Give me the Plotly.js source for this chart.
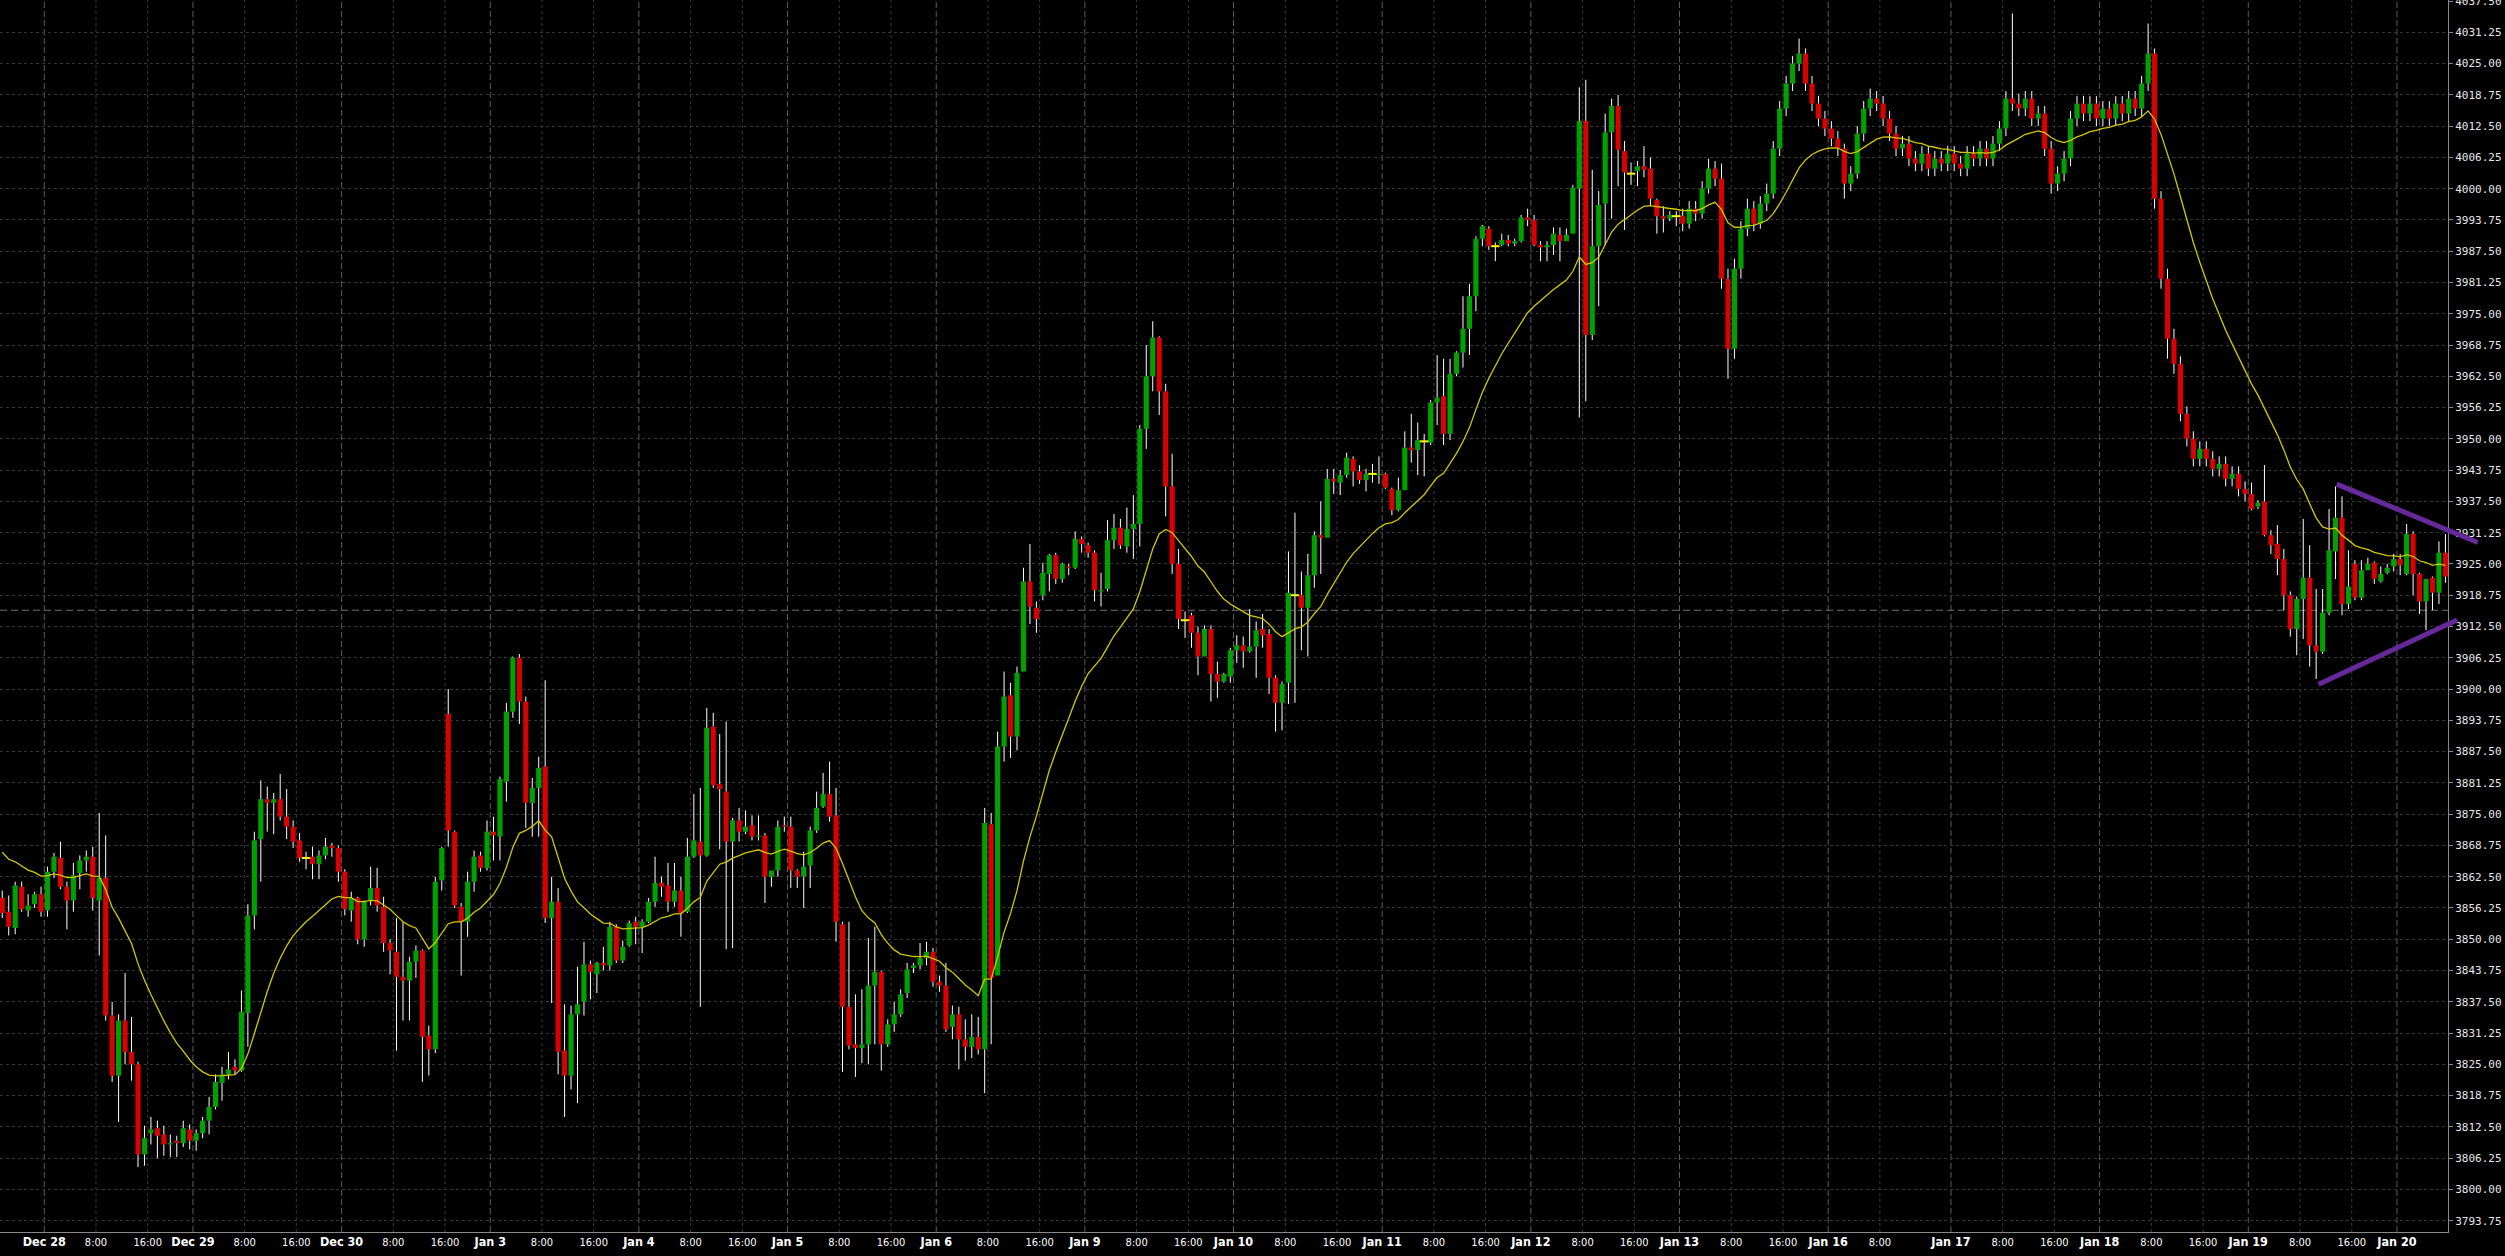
<!DOCTYPE html>
<html>
<head>
<meta charset="utf-8">
<script src="https://cdn.plot.ly/plotly-3.0.1.min.js"></script>
<style>
html,body{margin:0;padding:0;background:#000;}
#chart{width:2505px;height:1256px;}
</style>
</head>
<body>
<div id="chart"></div>
<script>
// hourly bar index of the first candle (Dec 27 16:00); index 0 = Dec 28 0:00
const firstBar = -7;

const open = [
3858.25,3855.5,3852.25,3860.5,3855.75,3857,3859,
3855.75,3863.5,3866.25,3860.5,3857.75,3863.25,3865.75,3866.5,3857.75,3862.25,3834.75,3822.75,3833.75,3827.5,3825,3807,3811.25,3812.25,3811,3809,3809.75,3809.25,3812,
3809.75,3811.25,3813.75,3816.5,3821.25,3823,3824.5,3823.75,3835.25,3854.75,3870,3878,3877.25,3878,3874.5,3872.5,3869.75,3866.25,3866.5,3865,3866.75,3868.75,3868.25,
3863.5,3855.75,3858.25,3850,3857.75,3860.25,3856.5,3849.25,3847.5,3842.5,3841.75,3845.5,3847.75,3830.75,3828,3861.75,3895,3871.5,3856.5,3853.5,3861.5,3866.75,3864.25,
3871.5,3870.5,3881.5,3895.5,3906.25,3897.5,3877.25,3880.25,3884.5,3854.25,3857.5,3827.75,3822.75,3835,3837.5,3845,3843,3845.25,3844.75,3852.5,3845.75,3848.75,3853.5,
3852.5,3853.5,3857.5,3861.25,3860.75,3857.5,3859.75,3855.5,3866.5,3869.5,3866.75,3892.5,3881,3879.5,3869.5,3873.75,3871.5,3872.75,3870.5,3870.75,3862.5,3863.75,3872.75,
3872.5,3863.75,3862.5,3864.75,3871.75,3876.5,3879,3874.75,3853,3836.5,3829,3828.25,3829,3840.75,3843.5,3829,3833,3835,3839.25,3844.25,3844.75,3846.25,3847.5,
3841.5,3840.75,3832.5,3835,3830,3828.5,3830.5,3828,3873,3842.75,3888.5,3898.75,3890.5,3903.5,3921.5,3916.25,3918.75,3923,3926.75,3922,3924.5,3924.25,3930,
3928.75,3927.25,3919.5,3920,3929.75,3932.25,3928.5,3932,3933,3952,3962.5,3970.25,3959.5,3940.5,3925,3913.75,3914.75,3911.25,3906.5,3912,3903,3901.5,3902.5,
3907.75,3908.75,3907.5,3908.5,3912,3911,3902.25,3897.25,3901.25,3918.75,3918.75,3916.25,3922.75,3930.75,3930.25,3942,3941.25,3942.75,3946,3943.5,3941.75,3943,3942.75,
3943,3940,3935.75,3939.75,3948.25,3947.75,3949.5,3949.25,3957.25,3958.5,3951,3963,3967.25,3972,3978.5,3990,3992,3988.5,3988.75,3989.75,3989,3989.5,3994.25,
3993.75,3988.75,3988.25,3988.75,3990.75,3989.5,3991,4000,4013.5,3970.75,3988.5,3997,4011.25,4016.5,4007.5,4003,4003.5,4004.5,4004,3997.75,3994.5,3994,3994.5,
3994.5,3993,3996,3995,4000,4004,4002,3982,3968,3984,3992,3996,3993,3997,3999,4008,4016,4021,4025,4027,4021,4017,4014,
4012,4010,4008,4001,4003,4011,4016,4018,4017,4014,4011,4008,4009,4006,4005,4007,4004,4006,4005,
4007,4005,4004,4007,4006,4008,4006,4009,4012,4018,4017,4016,4018,4014,4015,4008,4001,4003,4006,4014,4017,4015,4017,
4014,4016,4014,4017,4015,4018,4016,4021,4027,3998,3982,3970,3965,3955,3950,3946,3948,3946,3944,3945,3942,3943,3940,
3939,3936.5,3937.5,3930.75,3929,3926,3918.75,3912,3918,3922.25,3908.75,3907.5,3915.25,3927.5,3934.25,3917,3925,3918.25,3923.75,3925.25,3921.5,3923.25,3924.5,
3926,3923,3931,3923,3917.5,3922.25,3919.25,3927.25
];

const high = [
3859.75,3858.75,3861.5,3861.5,3859,3859.5,3860.5,
3864.5,3867.25,3869.5,3861.5,3865.25,3866.75,3867.75,3868.5,3875.25,3870.75,3837.5,3835,3843.25,3834.5,3825.5,3812.75,3814.5,3813.75,3812.75,3811,3810.75,3813.75,3813,
3812,3814.5,3818.5,3823,3824.5,3827.5,3826,3839.75,3857,3871.5,3881.75,3880.5,3879.25,3883,3880,3873.75,3871.25,3867.5,3868.5,3867.75,3870.25,3869.25,3868.75,
3864,3859.5,3858.5,3857.75,3864.5,3864.25,3858.5,3850,3854.25,3853.5,3846.5,3848.75,3848,3832.75,3862.5,3868.5,3900,3871.75,3857.25,3863.5,3867.75,3867.5,3873.75,
3874.5,3882.5,3897.25,3906.5,3907,3898.5,3882.25,3886.5,3901.75,3862.5,3860.25,3837,3836.75,3844.5,3849.5,3845.75,3845.5,3848.5,3853.5,3853,3849.75,3853.75,3854.5,
3854,3858.25,3866.5,3862.5,3865.25,3865.25,3862.5,3870.25,3879,3880.25,3896.25,3895.25,3891,3893.5,3874.25,3876.25,3875.75,3874.75,3874.75,3871.25,3863.75,3873.75,3874.5,
3874.5,3864,3867.5,3872.5,3879.5,3883.25,3885.5,3880.25,3853.5,3853.5,3839,3840,3850.25,3852.5,3843.75,3834,3837.5,3840,3845.25,3845.25,3849.25,3849.5,3848.25,
3842.75,3845.25,3836.75,3836.5,3834,3835,3834.5,3876.25,3875.25,3891.5,3903.5,3901.25,3904.5,3924.25,3929,3917.5,3925.25,3927,3927.25,3925.25,3925,3931.5,3930.5,
3929.25,3927.75,3923.25,3933.75,3935,3934,3936.25,3938.75,3952.75,3968.75,3973.5,3970.5,3961,3947,3928,3915.5,3915.25,3912.5,3912.75,3912.75,3905.5,3903.25,3908.25,
3910.75,3910.5,3916,3913.5,3915,3912,3902.75,3901.5,3927.5,3935.25,3923.5,3927,3931.5,3937.5,3944,3944,3943.75,3947.25,3946.5,3944.75,3944,3945,3946.5,
3943.25,3940.25,3942.25,3951.5,3955,3953.25,3951,3957.75,3966.75,3966,3966,3967.5,3978.5,3981,3990.5,3992.75,3992.5,3989.25,3991,3990.75,3990,3994.75,3996,
3994.75,3989.5,3989.5,3992.25,3992.25,3992,4000.75,4020.25,4021.75,4003.75,3999.5,4015,4018,4018.75,4009.5,4005.25,4005.5,4008.5,4006.25,3998,3996.5,3995.5,3995.5,
3996,3997.5,3997.5,4001.5,4006,4005.5,4005,3984,3986,3993.5,3998,3997.5,3998.5,4001,4009.5,4017.5,4022.5,4026.5,4030,4028,4022.5,4018.5,4015.5,
4013.5,4011.5,4009,4004.5,4012.5,4017.5,4020,4019.5,4018.5,4015.5,4012.5,4010.5,4010.5,4007.5,4008.5,4008.5,4007.5,4007.5,4008.5,
4008.5,4006.5,4008.5,4008.5,4009.5,4009.5,4010.5,4013.5,4019.5,4035,4019,4019.5,4019.5,4016.5,4016.5,4009.5,4004.5,4007.5,4015.5,4018.5,4018.5,4018.5,4018.5,
4017.5,4017.5,4018.5,4018.5,4019.5,4019.5,4022.5,4033,4028,3999.5,3984,3972,3966.5,3956.5,3951.5,3949.5,3949.5,3947.5,3946.5,3946.5,3944.5,3944.5,3941.5,
3941.25,3937.75,3944.75,3931.75,3932.75,3928,3919.5,3918.5,3934,3928.75,3920,3920,3936,3940.5,3938.5,3927.75,3925.75,3925.75,3926.25,3925.5,3924.5,3925,3927,
3927,3933,3931.5,3923.25,3922,3922.5,3929.5,3931
];

const low = [
3854.25,3850.75,3851,3855.5,3854.5,3856.25,3854.5,
3854.5,3862.25,3860,3852,3855.5,3860,3863.5,3855.75,3846.75,3833.75,3821.5,3813.5,3825,3821.75,3804.5,3804.75,3809,3806.25,3806.75,3806.5,3806.5,3808.5,3808,
3807.75,3810.25,3811,3816,3817.75,3822,3823,3823.5,3828.5,3852,3861.5,3871.5,3871,3873.75,3870,3868.25,3865.5,3864,3862,3862,3866,3866.5,3861.5,
3854.75,3853.5,3849,3848.5,3856.75,3855.5,3847.5,3843,3827.75,3833.75,3833.75,3842.25,3821.5,3822.75,3827.25,3859.75,3868.5,3856.25,3842.75,3850.5,3859.5,3863.5,3863.75,
3865.75,3865.75,3877.5,3894.25,3893,3872.25,3870.5,3870.5,3853.25,3837.25,3823,3814.5,3820,3817.25,3834.75,3838,3839.25,3843.75,3843.75,3845.25,3845.25,3848.5,3849,
3847.25,3853.25,3856.5,3858.5,3855.5,3856.5,3850.5,3855.25,3866.25,3836.5,3866.5,3880.25,3868,3848,3848.25,3869.5,3871,3869.75,3869.75,3857.25,3860.5,3862.5,3871.5,
3860.25,3860.25,3856.25,3860.25,3871.25,3876.25,3873.5,3849.5,3823.5,3828,3822.5,3825.25,3825,3829,3823.75,3828.5,3831.5,3834.5,3838.25,3843.25,3844,3844.75,3840.5,
3839.5,3831.5,3830,3824,3825.75,3826.25,3827,3819.25,3829,3842.75,3885.5,3886.25,3887.75,3903.5,3913,3911.25,3917.75,3919.5,3921,3921.25,3922.75,3924,3927.25,
3926.25,3917.5,3916.5,3919.5,3928,3928,3927.25,3926,3928.5,3948,3959.5,3954.75,3934.5,3923,3912,3910.25,3908.25,3902.75,3906.5,3897.5,3898.25,3901.25,3901.25,
3905.25,3904.25,3907.25,3902.25,3908.25,3899,3891.5,3891.75,3897,3897.25,3907.75,3906.5,3920.25,3923,3930.25,3939,3938.75,3942.25,3940.5,3941,3939.5,3941.25,3941,
3940,3934.75,3935.5,3939.75,3945.25,3942.75,3942.5,3948.75,3952.75,3948.75,3949.75,3962.5,3964.25,3966.75,3975.5,3988.5,3987.75,3985.5,3988.5,3988.5,3988.5,3989.25,3992.5,
3988.5,3985.5,3985.5,3986.75,3985.5,3989.5,3991,3954.25,3957.5,3969.75,3976.5,3988.75,3994,4000.5,3991.75,4000.75,4000.5,4002.25,3996.75,3991,3991.25,3993.5,3992.5,
3991.5,3992,3993.5,3994,3999,4000.5,3980,3962,3966,3982,3990.5,3991.5,3992,3995.5,3998,4006.5,4014.5,4019.5,4023.5,4019.5,4015.5,4012.5,4010.5,
4008.5,4006.5,3998,3999.5,4002,4009.5,4014.5,4015.5,4012.5,4009.5,4006.5,4006.5,4004.5,4003.5,4003.5,4002.5,4002.5,4003.5,4003.5,
4003.5,4002.5,4002.5,4004.5,4004.5,4004.5,4004.5,4007.5,4010.5,4015.5,4014.5,4014.5,4012.5,4012.5,4006.5,3999,3999.5,4001.5,4004.5,4012.5,4013.5,4013.5,4012.5,
4012.5,4012.5,4012.5,4013.5,4013.5,4014.5,4014.5,4019.5,3996,3980,3966,3963,3953.5,3948.5,3944.5,3944.5,3944.5,3942.5,3942.5,3940.5,3940.5,3938.5,3937.5,
3935.75,3936,3930.5,3927,3922.75,3915.75,3910.5,3906.75,3910,3904.5,3902,3907,3914.75,3922,3914.75,3916,3917.75,3917.75,3923.75,3921,3921.25,3923,3923.5,
3922.75,3922.75,3918.75,3915,3911.75,3915.75,3917,3921.25
];

const close = [
3855.25,3852.5,3860.75,3856,3856.75,3859,3855.5,
3863.5,3866.5,3860.5,3857.75,3862.75,3865.75,3866.5,3858.25,3862.25,3834.75,3822.75,3833.75,3827.5,3825,3807,3810.25,3812,3810.75,3809,3809.25,3809.25,3812.25,3809.75,
3811.25,3813.75,3816.5,3821.5,3823,3824,3823.75,3835.5,3854.75,3869.75,3878,3877.25,3878,3874.5,3872.5,3869.5,3866.25,3866.25,3865,3866.75,3868.5,3868.25,3863.5,
3856,3858.25,3850,3857.5,3860.25,3856.75,3849.25,3847.75,3842.5,3841.75,3845.5,3847.75,3830.5,3828,3861.5,3868.25,3871.75,3856.75,3853.5,3861.5,3866.5,3864.25,3871.5,
3870.75,3882,3895.5,3906.25,3897.5,3877.25,3880.25,3884.25,3854.25,3857.5,3827.5,3822.75,3835,3837,3845,3843.5,3845.25,3844.75,3852.5,3845.75,3848.5,3853.25,3852.5,
3853.5,3857.5,3861.25,3860.5,3857.5,3859.75,3855.25,3866.5,3869.75,3866.75,3892.25,3880.75,3880,3869.5,3873.75,3871.5,3872.5,3870.5,3870.75,3862.5,3863.75,3872.5,3872.5,
3863.75,3862.5,3864.5,3871.75,3876.25,3879,3874.5,3853.5,3836.5,3828.75,3828.25,3829,3840.75,3843.5,3829,3833,3835,3839,3844,3844.75,3846.25,3847.5,3841.5,
3840.75,3832,3835,3830,3828.5,3830.5,3828,3873.25,3842.25,3888.5,3898.5,3890.5,3903.25,3921.5,3916.5,3914,3923.25,3926.75,3922,3925,3924.25,3930,3929,
3927.25,3919.75,3919.75,3929.75,3932.25,3928.75,3932,3933,3952,3962.5,3970.25,3959.5,3940.5,3925,3914,3913.75,3911.25,3906.5,3912,3903,3901.5,3903,3907.75,
3908.75,3907.5,3908.5,3911.75,3910.75,3902.25,3897.25,3901,3919.25,3918.75,3916.25,3922.75,3930.75,3930.25,3942,3941.5,3942.75,3946.25,3943.5,3941.75,3943,3943,3943,
3940.25,3935.75,3939.75,3948.25,3947.75,3949.75,3949.5,3957.25,3958.25,3951,3963,3967.25,3972,3978.5,3990,3992.5,3988.5,3988.5,3989.75,3989,3989.5,3994.25,3993.75,
3988.75,3988.25,3988.75,3991,3989.5,3990.75,4000.25,4013.5,3970.75,3988.5,3996.75,4011.25,4016.5,4007.75,4003.25,4003,4004.5,4003.75,3998,3994.5,3994,3994.75,3994.5,
3993,3996,3995,4000,4004,4002,3982,3968,3984,3992,3996,3993,3997,3999,4008,4016,4021,4025,4027,4021,4017,4014,4012,
4010,4008,4001,4003,4011,4016,4018,4017,4014,4011,4008,4009,4006,4005,4007,4004,4006,4005,4007,
4005,4004,4007,4006,4008,4006,4009,4012,4018,4017,4016,4018,4014,4015,4008,4001,4003,4006,4014,4017,4015,4017,4014,
4016,4014,4017,4015,4018,4016,4021,4027,3998,3982,3970,3965,3955,3950,3946,3948,3946,3944,3945,3942,3943,3940,3939,
3936,3937.25,3930.75,3928.75,3926,3918.75,3912,3918,3922.25,3908.75,3907.5,3915.25,3927.75,3934.25,3917,3920.5,3918.25,3923.75,3925,3922,3923,3924.25,3926,
3924.75,3931,3923,3917.5,3922,3919.25,3927.25,3922.5
];

// x-axis labels and the bar index at which each one starts
const tickIdx = [0,8,16,23,31,39,46,54,62,69,77,85,92,100,108,115,123,131,138,146,154,161,169,177,184,192,200,207,215,223,230,238,246,253,261,269,276,284,295,303,311,318,326,334,341,349,357,364];
const tickText = ['Dec 28','8:00','16:00','Dec 29','8:00','16:00','Dec 30','8:00','16:00','Jan 3','8:00','16:00','Jan 4','8:00','16:00','Jan 5','8:00','16:00','Jan 6','8:00','16:00','Jan 9','8:00','16:00','Jan 10','8:00','16:00','Jan 11','8:00','16:00','Jan 12','8:00','16:00','Jan 13','8:00','16:00','Jan 16','8:00','Jan 17','8:00','16:00','Jan 18','8:00','16:00','Jan 19','8:00','16:00','Jan 20'];

// moving average (EMA of close), value at the first visible bar
const maPeriod = 20;
const maFirst = 3867.4;

// dashed horizontal price line
const refLevel = 3915.75;

// drawn trendlines (bar index, price)
const trendUpperX = [354.1, 376.0];
const trendUpperY = [3941.0, 3929.3];
const trendLowerX = [351.3, 372.8];
const trendLowerY = [3900.9, 3913.8];

// ---------------------------------------------------------------
const n = close.length;
if (open.length !== n || high.length !== n || low.length !== n) {
  throw new Error('length mismatch ' + [open.length, high.length, low.length, n].join(','));
}
const xs = close.map((_, k) => firstBar + k);

const GREEN = '#00a000', RED = '#d80000';
const bodyBase = [], bodyLen = [], bodyColor = [];
const wx = [], wy = [];
const dojiX = [], dojiY = [];
for (let k = 0; k < n; k++) {
  const o = open[k], c = close[k];
  const top = Math.max(o, c), bot = Math.min(o, c);
  bodyBase.push(bot);
  bodyLen.push(top - bot);
  bodyColor.push(c > o ? GREEN : (c < o ? RED : 'rgba(0,0,0,0)'));
  if (o === c) { dojiX.push(xs[k]); dojiY.push(c); }
  wx.push(xs[k], xs[k], null, xs[k], xs[k], null);
  wy.push(high[k], top, null, bot, low[k], null);
}
const alpha = 2 / (maPeriod + 1);
const ma = [maFirst];
for (let k = 1; k < n; k++) ma.push(ma[k - 1] + alpha * (close[k] - ma[k - 1]));

const traces = [
  {type:'bar', x:xs, y:bodyLen, base:bodyBase, width:0.8,
   marker:{color:bodyColor, line:{width:0}}, hoverinfo:'skip'},
  {type:'scatter', mode:'lines', x:wx, y:wy, line:{color:'#ffffff', width:1},
   hoverinfo:'skip', connectgaps:false},
  {type:'scatter', mode:'lines', x:xs, y:ma, line:{color:'#d2c800', width:1.3}, hoverinfo:'skip'},
  {type:'scatter', mode:'markers', x:dojiX, y:dojiY,
   marker:{symbol:'line-ew', size:6, line:{color:'#ffff00', width:2}}, hoverinfo:'skip'}
];

const shapes = [];
tickIdx.forEach((t, k) => {
  const isDay = /^[A-Z]/.test(tickText[k]);
  shapes.push({type:'line', xref:'x', yref:'paper', x0:t - 0.5, x1:t - 0.5, y0:0, y1:1, layer:'below',
    line:{color:isDay ? '#5c5c5c' : '#3a3a3a', width:1, dash:isDay ? '6px,3px' : '3px,3px'}});
});
shapes.push({type:'line', xref:'paper', yref:'y', x0:0, x1:1, y0:refLevel, y1:refLevel, layer:'below',
  line:{color:'#707070', width:1, dash:'7px,4px'}});

// trendlines as head-less arrows so they may run past the price axis, as in the reference
const PURPLE = '#66299a';
function trendArrow(xp, yp) {
  return {xref:'x', yref:'y', axref:'x', ayref:'y',
    x:xp[1], y:yp[1], ax:xp[0], ay:yp[0],
    text:'', showarrow:true, arrowhead:0, arrowwidth:5, arrowcolor:PURPLE,
    standoff:0, startstandoff:0, borderpad:0, font:{size:1}};
}
const annotations = [trendArrow(trendUpperX, trendUpperY), trendArrow(trendLowerX, trendLowerY)];

const ticktext = tickText.map(t => /^[A-Z]/.test(t)
  ? '<span style="font-size:12.5px"><b>' + t + '</b></span>' : t);

const layout = {
  width:2505, height:1256,
  paper_bgcolor:'#000000', plot_bgcolor:'#000000',
  margin:{l:0, r:57, t:0, b:24, pad:0},
  showlegend:false,
  hovermode:false,
  xaxis:{
    range:[-7.35, 371.4], showgrid:false, zeroline:false,
    tickmode:'array', tickvals:tickIdx.map(t => t - 0.5), ticktext:ticktext,
    ticks:'', showline:true, linecolor:'#8a8a8a', linewidth:1,
    tickfont:{family:'DejaVu Sans Condensed, DejaVu Sans', size:11, color:'#ffffff'},
    fixedrange:true
  },
  yaxis:{
    side:'right', range:[3791.5, 4037.7], tickmode:'linear', tick0:3793.75, dtick:6.25,
    tickformat:'.2f', showgrid:true, gridcolor:'#363636', gridwidth:1, griddash:'3px,3px',
    zeroline:false, showline:true, mirror:true, linecolor:'#8a8a8a', linewidth:1,
    ticks:'outside', ticklen:4, tickcolor:'#8a8a8a', ticklabeloverflow:'allow',
    tickfont:{family:'DejaVu Sans Mono', size:11, color:'#e8e8e8'},
    fixedrange:true
  },
  shapes:shapes,
  annotations:annotations
};

Plotly.newPlot('chart', traces, layout, {staticPlot:true, displayModeBar:false});
</script>
</body>
</html>
